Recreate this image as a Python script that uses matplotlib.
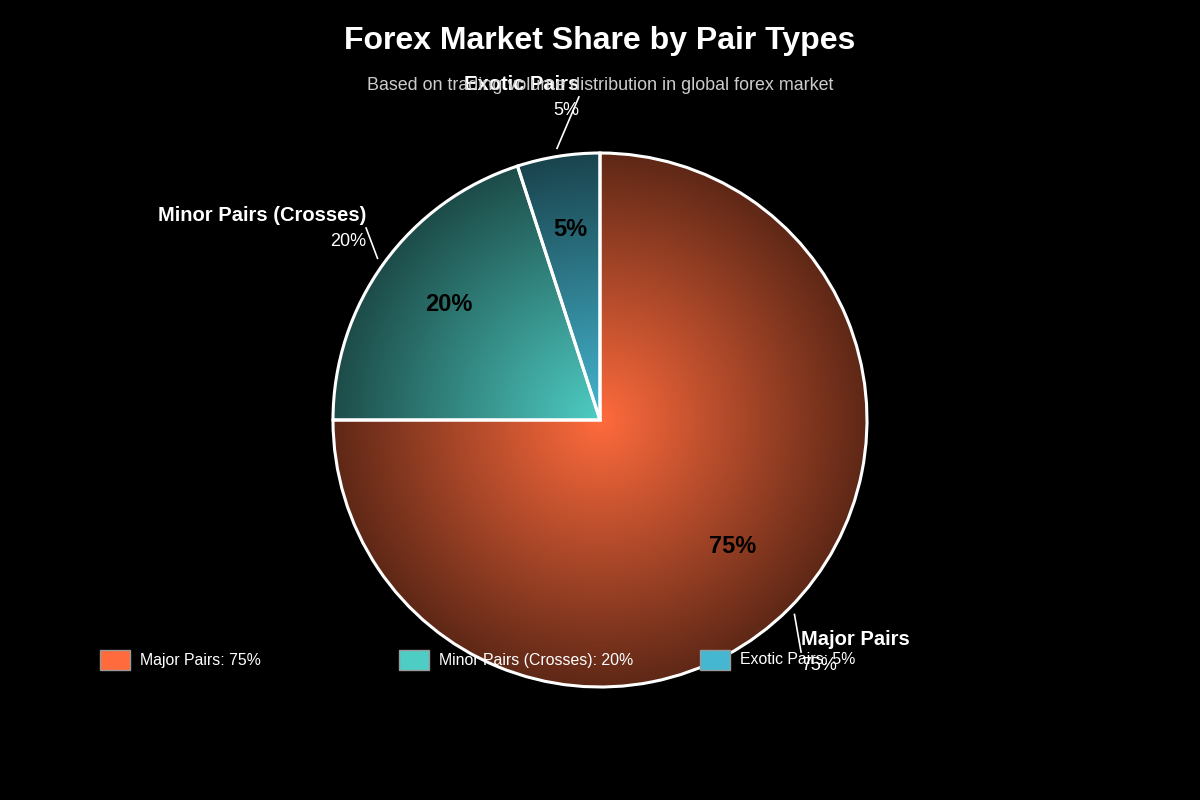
import numpy as np
import matplotlib.pyplot as plt
from matplotlib.colors import to_rgb
from matplotlib.patches import Rectangle

plt.rcParams['font.family'] = ['Liberation Sans', 'DejaVu Sans']

# data
labels = ['Major Pairs', 'Minor Pairs (Crosses)', 'Exotic Pairs']
shares = [75, 20, 5]
colors = ['#FF6B3D', '#4ECDC4', '#45B7D1']

# outer label anchors (in pie radius units) and alignment
label_anchor = [(0.753, -0.869), (-0.876, 0.719), (-0.079, 1.21)]
label_ha = ['left', 'right', 'right']
legend_x = [100, 399, 700]

fig = plt.figure(figsize=(12, 8), dpi=100, facecolor='black')

# pie axes: centre at (600, 420) px, radius 267 px
R = 267
ax = fig.add_axes([(600 - R) / 1200, (800 - 420 - R) / 800, 2 * R / 1200, 2 * R / 800])
ax.set_facecolor('black')

wedges, texts, autotexts = ax.pie(
    shares, startangle=90, counterclock=False, radius=1,
    autopct=lambda p: f'{p:.0f}%', pctdistance=0.7,
    wedgeprops=dict(edgecolor='white', linewidth=2.2),
    textprops=dict(color='black', fontsize=17, fontweight='bold'))

# radial gradient fill, clipped to each wedge
n = 600
g = np.linspace(-1, 1, n)
xx, yy = np.meshgrid(g, g)
rr = np.sqrt(xx ** 2 + yy ** 2)
shade = np.clip(1 - 0.63 * rr, 0, 1)
for w, c in zip(wedges, colors):
    w.set_facecolor('none')
    w.set_zorder(3)
    rgb = np.array(to_rgb(c))
    img = np.ones((n, n, 4))
    img[..., :3] = shade[..., None] * rgb
    im = ax.imshow(img, extent=[-1, 1, -1, 1], origin='lower', zorder=1,
                   interpolation='bilinear')
    im.set_clip_path(w)
for t in autotexts:
    x, y = t.get_position()
    t.set_position((x, y + 0.022))
    t.set_zorder(5)

ax.set_xlim(-1, 1)
ax.set_ylim(-1, 1)
ax.set_aspect('equal')
ax.axis('off')

# outer labels with leader lines
for w, lab, v, (lx, ly), ha in zip(wedges, labels, shares, label_anchor, label_ha):
    th = np.radians((w.theta1 + w.theta2) / 2)
    sx, sy = 1.03 * np.cos(th), 1.03 * np.sin(th)
    ax.plot([sx, lx], [sy, ly], color='white', lw=1.2, clip_on=False, zorder=6)
    ax.text(lx, ly + 0.046, lab, ha=ha, va='center', color='white',
            fontsize=14.5, fontweight='bold', clip_on=False, zorder=7)
    ax.text(lx, ly - 0.05, f'{v}%', ha=ha, va='center', color='white',
            fontsize=13, clip_on=False, zorder=7)

# title and subtitle
fig.text(0.5, 1 - 41 / 800, 'Forex Market Share by Pair Types', ha='center', va='center',
         color='white', fontsize=23, fontweight='bold')
fig.text(0.5, 1 - 85.5 / 800, 'Based on trading volume distribution in global forex market',
         ha='center', va='center', color='#cccccc', fontsize=12.9, zorder=1)

# legend drawn in pixel coordinates on top
lax = fig.add_axes([0, 0, 1, 1], facecolor='none')
lax.set_xlim(0, 1200)
lax.set_ylim(800, 0)
lax.axis('off')
for x, lab, v, c in zip(legend_x, labels, shares, colors):
    lax.add_patch(Rectangle((x, 650), 30, 20, facecolor=c, edgecolor='#999999', lw=1))
    lax.text(x + 40, 660, f'{lab}: {v}%', ha='left', va='center', color='white', fontsize=11.4)

fig.savefig('out.png', dpi=100, facecolor='black')
